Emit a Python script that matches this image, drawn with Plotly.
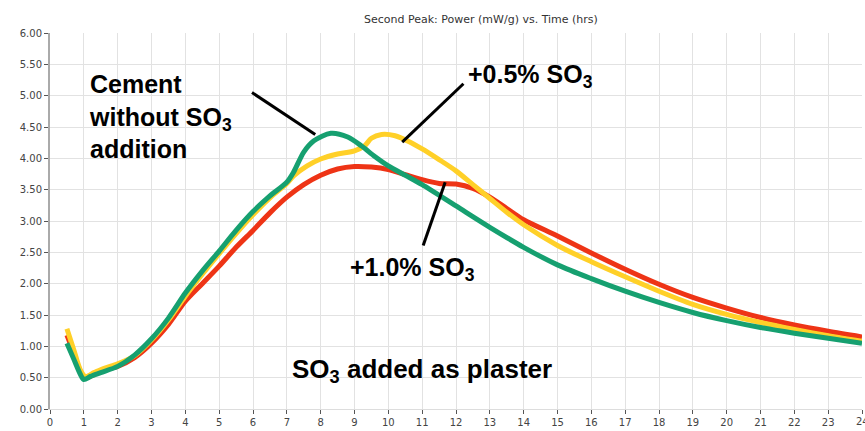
import plotly.graph_objects as go

# ---- data ----
t_green = [0.5, 0.7, 0.9, 1.0, 1.2, 1.5, 2.0, 2.5, 3.0, 3.5, 4.0, 4.5, 5.0, 5.5, 6.0, 6.5, 7.0, 7.2, 7.5, 7.8,
           8.3, 8.8, 9.2, 9.6, 10.0, 10.5, 11.0, 12.0, 13.0, 14.0, 15.0, 16.0, 17.0, 18.0, 19.0, 20.0, 21.0, 22.0, 23.0, 24.0]
p_green = [1.05, 0.80, 0.55, 0.47, 0.52, 0.58, 0.68, 0.86, 1.12, 1.45, 1.85, 2.20, 2.52, 2.85, 3.15, 3.40, 3.62, 3.78, 4.10, 4.28,
           4.40, 4.34, 4.20, 4.03, 3.88, 3.73, 3.58, 3.24, 2.90, 2.58, 2.30, 2.08, 1.88, 1.70, 1.54, 1.41, 1.30, 1.21, 1.13, 1.05]

t_yellow = [0.5, 0.7, 0.9, 1.05, 1.3, 1.6, 2.0, 2.5, 3.0, 3.5, 4.0, 4.5, 5.0, 5.5, 6.0, 6.5, 7.0, 7.2, 7.6, 8.0, 8.5, 9.0,
            9.3, 9.5, 9.8, 10.2, 10.6, 11.0, 11.5, 12.0, 12.5, 13.0, 13.5, 14.0, 15.0, 16.0, 17.0, 18.0, 19.0, 20.0,
            21.0, 22.0, 23.0, 24.0]
p_yellow = [1.28, 0.95, 0.62, 0.52, 0.58, 0.65, 0.72, 0.85, 1.10, 1.42, 1.80, 2.15, 2.48, 2.80, 3.10, 3.37, 3.60, 3.72, 3.88, 3.99, 4.07, 4.12,
            4.20, 4.32, 4.38, 4.36, 4.27, 4.15, 3.98, 3.80, 3.58, 3.36, 3.14, 2.94, 2.61, 2.35, 2.11, 1.88, 1.67, 1.51,
            1.38, 1.27, 1.17, 1.08]

t_red = [0.5, 0.7, 0.9, 1.05, 1.3, 1.6, 2.0, 2.5, 3.0, 3.5, 4.0, 4.5, 5.0, 5.5, 6.0, 6.5, 7.0, 7.5, 8.0, 8.5, 9.0, 9.5,
         10.0, 10.5, 11.0, 11.5, 12.0, 12.5, 13.0, 13.5, 14.0, 15.0, 16.0, 17.0, 18.0, 19.0, 20.0, 21.0, 22.0, 23.0, 24.0]
p_red = [1.18, 0.90, 0.60, 0.50, 0.55, 0.62, 0.68, 0.82, 1.05, 1.35, 1.72, 2.00, 2.28, 2.58, 2.85, 3.13, 3.38, 3.58, 3.73, 3.83, 3.87, 3.86,
         3.82, 3.74, 3.66, 3.60, 3.59, 3.52, 3.38, 3.20, 3.02, 2.76, 2.49, 2.23, 1.99, 1.78, 1.61, 1.46, 1.34, 1.24, 1.15]

x_ticks = list(range(0, 25))
y_ticks = [0, 0.5, 1, 1.5, 2, 2.5, 3, 3.5, 4, 4.5, 5, 5.5, 6]

RED = "rgb(238,52,22)"
YELLOW = "rgb(255,208,40)"
GREEN = "rgb(22,160,112)"

fig = go.Figure()
for t, p, c in [(t_red, p_red, RED), (t_yellow, p_yellow, YELLOW), (t_green, p_green, GREEN)]:
    fig.add_trace(go.Scatter(x=t, y=p, mode="lines", line=dict(color=c, width=5, shape="spline", smoothing=0.8),
                             showlegend=False, hoverinfo="x+y"))

txt_font = dict(family="Liberation Sans, Arial, sans-serif", size=25, color="black")
fig.add_annotation(x=1.08, y=4.67, xref="x", yref="y", text="<b>Cement<br>without SO<sub>3</sub><br>addition</b>",
                   showarrow=False, xanchor="left", yanchor="middle", align="left", font=txt_font)
fig.add_annotation(x=12.3, y=5.31, xref="x", yref="y", text="<b>+0.5% SO<sub>3</sub></b>",
                   showarrow=False, xanchor="left", yanchor="middle", font=txt_font)
fig.add_annotation(x=8.82, y=2.24, xref="x", yref="y", text="<b>+1.0% SO<sub>3</sub></b>",
                   showarrow=False, xanchor="left", yanchor="middle", font=txt_font)
fig.add_annotation(x=7.1, y=0.62, xref="x", yref="y", text="<b>SO<sub>3</sub> added as plaster</b>",
                   showarrow=False, xanchor="left", yanchor="middle",
                   font=dict(family="Liberation Sans, Arial, sans-serif", size=26, color="black"))

for (x0, y0, x1, y1) in [(5.97, 5.05, 7.84, 4.38), (12.22, 5.19, 10.41, 4.26), (11.68, 3.62, 11.03, 2.61)]:
    fig.add_shape(type="line", xref="x", yref="y", x0=x0, y0=y0, x1=x1, y1=y1, line=dict(color="black", width=3))

fig.add_annotation(x=0.5, y=1.0, xref="paper", yref="paper", yshift=22, xshift=25,
                   text="Second Peak: Power (mW/g) vs. Time (hrs)", showarrow=False,
                   font=dict(family="DejaVu Sans, Verdana, sans-serif", size=11, color="#333"))

tick_font = dict(family="DejaVu Sans, Tahoma, sans-serif", size=10, color="#444")
# last tick label (partly cut by the window edge, as in the reference)
fig.add_annotation(x=24, y=0, xref="x", yref="y", yshift=-12, text="24", showarrow=False,
                   xanchor="center", yanchor="middle", font=tick_font)

fig.update_layout(
    width=865, height=431, margin=dict(l=50, r=3, t=33, b=20),
    paper_bgcolor="white", plot_bgcolor="white",
    xaxis=dict(range=[0, 24], tickvals=x_ticks, ticktext=[str(v) for v in x_ticks], showgrid=True,
               gridcolor="#e2e2e2", gridwidth=1, zeroline=False, showline=True, linecolor="#dddddd",
               ticks="outside", ticklen=4, tickcolor="#555", tickfont=tick_font),
    yaxis=dict(range=[0, 6], tickvals=y_ticks, ticktext=[f"{v:.2f}" for v in y_ticks], showgrid=True,
               gridcolor="#e2e2e2", gridwidth=1, zeroline=False, showline=True, linecolor="#aaaaaa", linewidth=2,
               ticks="outside", ticklen=4, tickcolor="#555", tickfont=tick_font),
)

fig.write_html("out.html")
